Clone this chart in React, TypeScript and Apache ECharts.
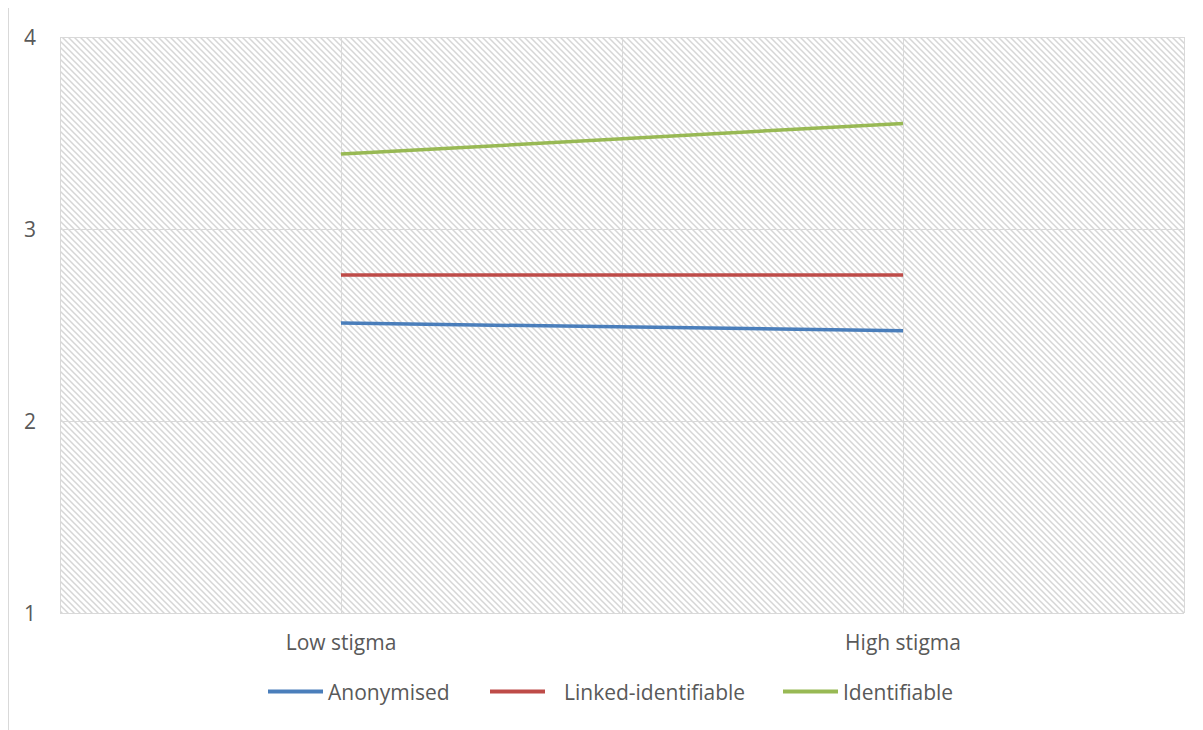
import React, { useEffect, useRef } from "react";
import * as echarts from "echarts";

// Study conditions on the horizontal axis
const categories = ["Low stigma", "High stigma"];

// Mean scores per identifiability condition
const anonymised = [2.51, 2.47];
const linkedIdentifiable = [2.76, 2.76];
const identifiable = [3.39, 3.55];

// Value axis ticks
const yTicks = [1, 2, 3, 4];

const TEXT = "#595959";
const GRID = "#d9d9d9";
const FONT = "'Open Sans', sans-serif";
const FONT_SIZE = 21;

// Diagonal hatch tile used to fill the plot area
function makeHatch(): HTMLCanvasElement {
  const s = 6;
  const c = document.createElement("canvas");
  c.width = s;
  c.height = s;
  const ctx = c.getContext("2d")!;
  ctx.fillStyle = "#ffffff";
  ctx.fillRect(0, 0, s, s);
  ctx.strokeStyle = "#d6d6d6";
  ctx.lineWidth = 1.5;
  ctx.beginPath();
  ctx.moveTo(-1, -1);
  ctx.lineTo(s + 1, s + 1);
  ctx.moveTo(-1, s - 1);
  ctx.lineTo(1, s + 1);
  ctx.moveTo(s - 1, -1);
  ctx.lineTo(s + 1, 1);
  ctx.stroke();
  return c;
}

// One legend block per series so each entry can sit at its own offset
const legendEntry = (name: string, left: number, textPad = 0) => ({
  top: 668,
  left,
  icon: "rect",
  itemWidth: 55,
  itemHeight: 4,
  textStyle: {
    color: TEXT,
    fontSize: FONT_SIZE,
    fontFamily: FONT,
    padding: [0, 0, 0, textPad],
  },
  data: [name],
});

export default function App() {
  const ref = useRef<HTMLDivElement>(null);

  useEffect(() => {
    if (!ref.current) return;
    const chart = echarts.init(ref.current, null, { renderer: "svg" });
    const hatch = makeHatch();

    const lineSeries = (name: string, data: number[], color: string) => ({
      name,
      type: "line",
      data,
      xAxisIndex: 0,
      symbol: "none",
      color,
      itemStyle: { color },
      lineStyle: { width: 3.5, color },
      emphasis: { disabled: true },
    });

    chart.setOption({
      animation: false,
      textStyle: { fontFamily: FONT },
      grid: {
        left: 51,
        right: 12,
        top: 29,
        bottom: 117,
        show: true,
        borderWidth: 0,
        backgroundColor: {
          image: hatch,
          repeat: "repeat",
          imageWidth: hatch.width,
          imageHeight: hatch.height,
        } as any,
      },
      xAxis: [
        {
          type: "category",
          data: categories,
          boundaryGap: true,
          axisLine: { show: false },
          axisTick: { show: false },
          splitLine: { show: false },
          axisLabel: {
            color: TEXT,
            fontSize: FONT_SIZE,
            fontFamily: FONT,
            margin: 18,
          },
        },
        {
          // helper axis that only draws the vertical grid lines
          type: "value",
          min: 0,
          max: 4,
          interval: 1,
          position: "bottom",
          axisLine: { show: false },
          axisTick: { show: false },
          axisLabel: { show: false },
          splitLine: { show: true, lineStyle: { color: GRID, width: 1 } },
        },
      ],
      yAxis: {
        type: "value",
        min: yTicks[0],
        max: yTicks[yTicks.length - 1],
        interval: 1,
        axisLine: { show: false },
        axisTick: { show: false },
        axisLabel: {
          color: TEXT,
          fontSize: FONT_SIZE,
          fontFamily: FONT,
          margin: 24,
        },
        splitLine: { show: true, lineStyle: { color: GRID, width: 1 } },
      },
      legend: [
        legendEntry("Anonymised", 254),
        legendEntry("Linked-identifiable", 476, 14),
        legendEntry("Identifiable", 769),
      ],
      series: [
        lineSeries("Anonymised", anonymised, "#4a7ebb"),
        lineSeries("Linked-identifiable", linkedIdentifiable, "#be4b48"),
        lineSeries("Identifiable", identifiable, "#98b954"),
      ],
    });

    return () => chart.dispose();
  }, []);

  return (
    <div
      style={{
        width: 1189,
        height: 723,
        marginTop: -1,
        border: "1px solid #d9d9d9",
        borderBottom: "none",
        boxSizing: "border-box",
        background: "#ffffff",
      }}
    >
      <div ref={ref} style={{ width: 1187, height: 722 }} />
    </div>
  );
}
